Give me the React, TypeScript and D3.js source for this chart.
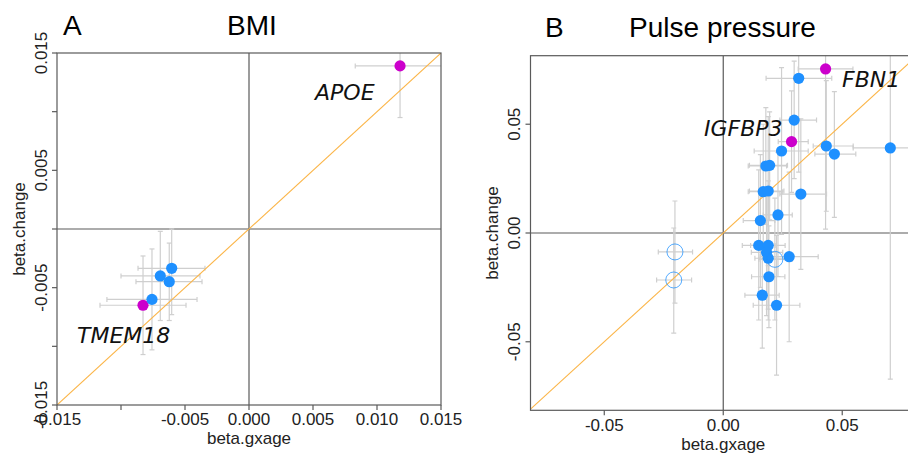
import * as d3 from 'd3'

// ---- BMI panel (A) ----
const bmiGene = ['APOE', 'TMEM18', '', '', '', '']
const bmiType = ['hit', 'hit', 'sig', 'sig', 'sig', 'sig']
const bmiGxage = [0.0118, -0.00828, -0.00758, -0.00693, -0.00623, -0.00604]
const bmiGxageLo = [0.0083, -0.01164, -0.0111, -0.01, -0.00883, -0.00867]
const bmiGxageHi = [0.0153, -0.00492, -0.00406, -0.00383, -0.00367, -0.00344]
const bmiChange = [0.0139, -0.0065, -0.006, -0.004, -0.00449, -0.00335]
const bmiChangeLo = [0.0095, -0.0107, -0.0103, -0.0078, -0.0078, -0.0073]
const bmiChangeHi = [0.0183, -0.0023, -0.0017, -0.0002, -0.0012, 0.0]
const bmiTicks = [-0.015, -0.01, -0.005, 0, 0.005, 0.01, 0.015]
const bmiXLabels = ['-0.015', '', '-0.005', '0.000', '0.005', '0.010', '0.015']
const bmiYLabels = ['-0.015', '', '-0.005', '', '0.005', '', '0.015']

// ---- Pulse pressure panel (B) ----
const ppGene = ['FBN1', 'IGFBP3']
const ppType = ['hit', 'hit', 'sig', 'sig', 'sig', 'sig', 'sig', 'sig', 'sig', 'sig', 'sig', 'sig', 'sig', 'sig', 'sig',
  'sig', 'sig', 'sig', 'sig', 'sig', 'sig', 'sig', 'sig', 'ns', 'ns', 'ns']
const ppGxage = [0.043, 0.0287, 0.0317, 0.0298, 0.0245, 0.0433, 0.0467, 0.0702, 0.0179, 0.0195, 0.0168, 0.0189, 0.0326,
  0.023, 0.0156, 0.0149, 0.0189, 0.0182, 0.0189, 0.0277, 0.0192, 0.0164, 0.0224, 0.0217, -0.0203, -0.0208]
const ppGxageLo = [0.0315, 0.0231, 0.018, 0.0238, 0.013, 0.0378, 0.0385, 0.0546, 0.0105, 0.011, 0.0105, 0.011, 0.0238,
  0.0168, 0.0084, 0.008, 0.0115, 0.0118, 0.0133, 0.0155, 0.0119, 0.0091, 0.0126, 0.015, -0.0273, -0.028]
const ppGxageHi = [0.0545, 0.0357, 0.0456, 0.0392, 0.0357, 0.0546, 0.0557, 0.0858, 0.0266, 0.027, 0.025, 0.0255, 0.0434,
  0.029, 0.0217, 0.0218, 0.026, 0.025, 0.026, 0.0399, 0.0259, 0.0235, 0.0322, 0.029, -0.0129, -0.0133]
const ppChange = [0.0754, 0.042, 0.0711, 0.0519, 0.0377, 0.04, 0.0363, 0.0391, 0.0308, 0.0311, 0.019, 0.0193, 0.0179,
  0.0083, 0.0057, -0.0057, -0.0057, -0.0089, -0.0116, -0.0109, -0.0201, -0.0286, -0.0332, -0.0121, -0.0087, -0.0216]
const ppChangeLo = [0.0018, 0.0187, 0.028, 0.025, -0.0006, 0.01, 0.0072, -0.0672, 0.004, 0.006, -0.012, -0.015, -0.0167,
  -0.02, -0.025, -0.04, -0.035, -0.038, -0.04, -0.05, -0.0435, -0.0529, -0.0653, -0.04, -0.0322, -0.046]
const ppChangeHi = [0.149, 0.0653, 0.114, 0.079, 0.076, 0.07, 0.065, 0.145, 0.0576, 0.0557, 0.05, 0.0535, 0.0525,
  0.037, 0.036, 0.029, 0.024, 0.02, 0.017, 0.028, 0.0033, -0.0043, -0.0011, 0.016, 0.0147, 0.0023]
const ppTicks = [-0.05, 0, 0.05]
const ppLabels = ['-0.05', '0.00', '0.05']

const BLUE = '#1e90ff'
const MAGENTA = '#cc00cc'
const ERR = '#cfcfcf'
const AXIS = '#5a5a5a'
const FONT = 'Liberation Sans, Arial, sans-serif'

const Panel = ({ id, d, xDomain, yDomain, box, xTicks, xLabels, yTicks, yLabels, lay, geneLabels }) => {
  const x = d3.scaleLinear().domain(xDomain).range([box.x0, box.x1])
  const y = d3.scaleLinear().domain(yDomain).range([box.y1, box.y0])
  const idx = d3.range(d.gx.length)
  const cap = 2.5
  const lo = Math.max(xDomain[0], yDomain[0])
  const hi = Math.min(xDomain[1], yDomain[1])

  return (
    <g>
      <defs>
        <clipPath id={'clip-' + id}>
          <rect x={box.x0} y={box.y0} width={box.x1 - box.x0} height={box.y1 - box.y0} />
        </clipPath>
      </defs>
      <g clipPath={`url(#clip-${id})`}>
        {/* zero lines */}
        <line x1={x(0)} x2={x(0)} y1={box.y0} y2={box.y1} stroke={AXIS} strokeWidth={1.2} />
        <line x1={box.x0} x2={box.x1} y1={y(0)} y2={y(0)} stroke={AXIS} strokeWidth={1.2} />
        {/* error bars */}
        {idx.map(i => (
          <g key={'e' + i} stroke={ERR} strokeWidth={1.2} fill="none">
            <line x1={x(d.gxLo[i])} x2={x(d.gxHi[i])} y1={y(d.ch[i])} y2={y(d.ch[i])} />
            <line x1={x(d.gxLo[i])} x2={x(d.gxLo[i])} y1={y(d.ch[i]) - cap} y2={y(d.ch[i]) + cap} />
            <line x1={x(d.gxHi[i])} x2={x(d.gxHi[i])} y1={y(d.ch[i]) - cap} y2={y(d.ch[i]) + cap} />
            <line x1={x(d.gx[i])} x2={x(d.gx[i])} y1={y(d.chLo[i])} y2={y(d.chHi[i])} />
            <line x1={x(d.gx[i]) - cap} x2={x(d.gx[i]) + cap} y1={y(d.chLo[i])} y2={y(d.chLo[i])} />
            <line x1={x(d.gx[i]) - cap} x2={x(d.gx[i]) + cap} y1={y(d.chHi[i])} y2={y(d.chHi[i])} />
          </g>
        ))}
        {/* identity line */}
        <line x1={x(lo)} y1={y(lo)} x2={x(hi)} y2={y(hi)} stroke="#fbb548" strokeWidth={1.1} />
        {/* points */}
        {idx.map(i => d.type[i] === 'ns' ? (
          <circle key={'p' + i} cx={x(d.gx[i])} cy={y(d.ch[i])} r={8} fill="none" stroke={BLUE} strokeWidth={1} opacity={0.75} />
        ) : (
          <circle key={'p' + i} cx={x(d.gx[i])} cy={y(d.ch[i])} r={5.6}
            fill={d.type[i] === 'hit' ? MAGENTA : BLUE} />
        ))}
      </g>
      {/* box */}
      <rect x={box.x0} y={box.y0} width={box.x1 - box.x0} height={box.y1 - box.y0} fill="none" stroke={AXIS} strokeWidth={1.2} />
      {/* x axis */}
      {xTicks.map((t, i) => (
        <g key={'xt' + i}>
          <line x1={x(t)} x2={x(t)} y1={box.y1} y2={box.y1 + 5} stroke={AXIS} strokeWidth={1.2} />
          <text x={x(t)} y={lay.xLabY} textAnchor="middle" fontSize={17} fontFamily={FONT} fill="#222">{xLabels[i]}</text>
        </g>
      ))}
      {/* y axis */}
      {yTicks.map((t, i) => (
        <g key={'yt' + i}>
          <line x1={box.x0 - 5} x2={box.x0} y1={y(t)} y2={y(t)} stroke={AXIS} strokeWidth={1.2} />
          <text transform={`translate(${lay.yLabX},${y(t)}) rotate(-90)`} textAnchor="middle" fontSize={17}
            fontFamily={FONT} fill="#222">{yLabels[i]}</text>
        </g>
      ))}
      <text x={(box.x0 + box.x1) / 2} y={lay.xTitleY} textAnchor="middle" fontSize={17} fontFamily={FONT} fill="#222">beta.gxage</text>
      <text transform={`translate(${lay.yTitleX},${(box.y0 + box.y1) / 2}) rotate(-90)`} textAnchor="middle"
        fontSize={17} fontFamily={FONT} fill="#222">beta.change</text>
      {geneLabels.map((g, i) => (
        <text key={'g' + i} x={g.x} y={g.y} fontSize={22} fontStyle="italic" fontFamily="DejaVu Sans, sans-serif" fill="#111">{g.text}</text>
      ))}
    </g>
  )
}

export default function App() {
  const bmi = { gx: bmiGxage, gxLo: bmiGxageLo, gxHi: bmiGxageHi, ch: bmiChange, chLo: bmiChangeLo, chHi: bmiChangeHi, type: bmiType }
  const pp = { gx: ppGxage, gxLo: ppGxageLo, gxHi: ppGxageHi, ch: ppChange, chLo: ppChangeLo, chHi: ppChangeHi, type: ppType }

  return (
    <svg width={908} height={453} style={{ position: 'absolute', left: 0, top: 0, background: '#fff' }}>
      <rect width={908} height={453} fill="#fff" />
      <text x={63} y={35} fontSize={28} fontFamily={FONT}>A</text>
      <text x={252} y={35} fontSize={28} fontFamily={FONT} textAnchor="middle">BMI</text>
      <text x={545} y={37} fontSize={28} fontFamily={FONT}>B</text>
      <text x={722.5} y={37} fontSize={28} fontFamily={FONT} textAnchor="middle">Pulse pressure</text>
      <Panel id="a" d={bmi} xDomain={[-0.015, 0.015]} yDomain={[-0.015, 0.015]}
        box={{ x0: 57, x1: 441, y0: 53, y1: 405 }}
        xTicks={bmiTicks} xLabels={bmiXLabels} yTicks={bmiTicks} yLabels={bmiYLabels}
        lay={{ xLabY: 425, xTitleY: 444, yLabX: 46.5, yTitleX: 25 }}
        geneLabels={[{ text: bmiGene[0], x: 315, y: 100 }, { text: bmiGene[1], x: 77, y: 343 }]} />
      <Panel id="b" d={pp} xDomain={[-0.081, 0.081]} yDomain={[-0.0815, 0.0815]}
        box={{ x0: 530.5, x1: 916, y0: 55.7, y1: 410.3 }}
        xTicks={ppTicks} xLabels={ppLabels} yTicks={ppTicks} yLabels={ppLabels}
        lay={{ xLabY: 431, xTitleY: 450, yLabX: 520, yTitleX: 498 }}
        geneLabels={[{ text: ppGene[0], x: 842, y: 87 }, { text: ppGene[1], x: 704, y: 136 }]} />
    </svg>
  )
}
